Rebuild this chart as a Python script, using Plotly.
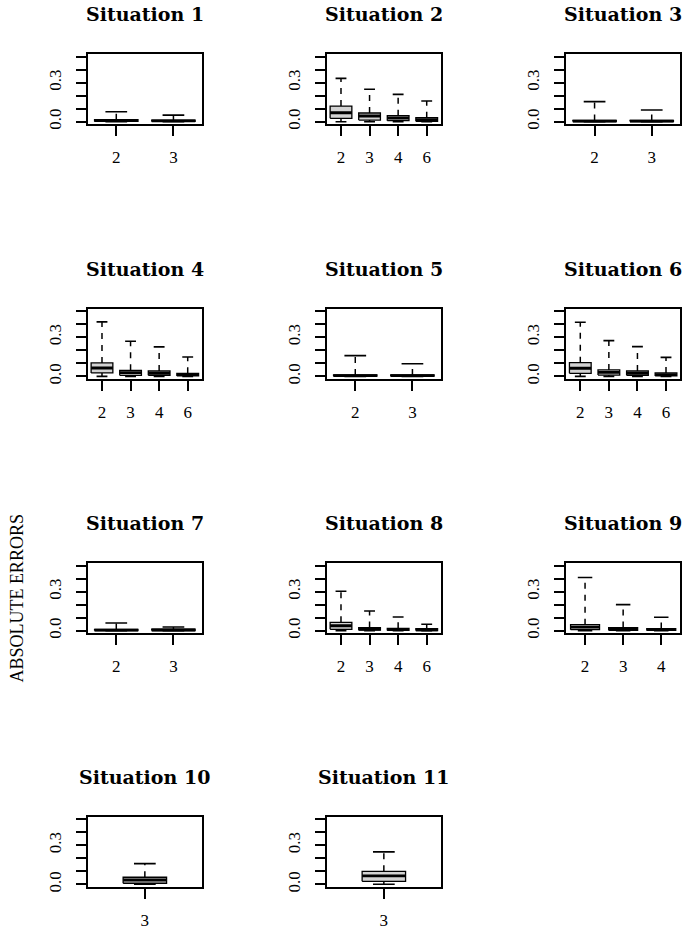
import plotly.graph_objects as go

# ---------------- data ----------------
titles = ["Situation 1", "Situation 2", "Situation 3", "Situation 4", "Situation 5",
          "Situation 6", "Situation 7", "Situation 8", "Situation 9", "Situation 10",
          "Situation 11"]

s1_cats = ["2", "3"]
s1_low = [0.0, 0.0]
s1_q1 = [0.002, 0.002]
s1_med = [0.008, 0.006]
s1_q3 = [0.016, 0.012]
s1_up = [0.077, 0.051]

s2_cats = ["2", "3", "4", "6"]
s2_low = [0.0, 0.0, 0.0, 0.0]
s2_q1 = [0.026, 0.013, 0.008, 0.003]
s2_med = [0.069, 0.044, 0.028, 0.015]
s2_q3 = [0.120, 0.067, 0.046, 0.031]
s2_up = [0.333, 0.249, 0.210, 0.159]

s3_cats = ["2", "3"]
s3_low = [0.0, 0.0]
s3_q1 = [0.001, 0.001]
s3_med = [0.005, 0.005]
s3_q3 = [0.010, 0.010]
s3_up = [0.154, 0.090]

s4_cats = ["2", "3", "4", "6"]
s4_low = [0.0, 0.0, 0.0, 0.0]
s4_q1 = [0.026, 0.008, 0.008, 0.003]
s4_med = [0.064, 0.028, 0.023, 0.013]
s4_q3 = [0.103, 0.046, 0.041, 0.023]
s4_up = [0.418, 0.270, 0.226, 0.149]

s5_cats = ["2", "3"]
s5_low = [0.0, 0.0]
s5_q1 = [0.001, 0.001]
s5_med = [0.005, 0.005]
s5_q3 = [0.011, 0.011]
s5_up = [0.159, 0.097]

s6_cats = ["2", "3", "4", "6"]
s6_low = [0.0, 0.0, 0.0, 0.0]
s6_q1 = [0.023, 0.010, 0.008, 0.003]
s6_med = [0.062, 0.031, 0.023, 0.013]
s6_q3 = [0.105, 0.049, 0.041, 0.026]
s6_up = [0.415, 0.274, 0.228, 0.146]

s7_cats = ["2", "3"]
s7_low = [0.0, 0.0]
s7_q1 = [0.001, 0.001]
s7_med = [0.004, 0.005]
s7_q3 = [0.009, 0.011]
s7_up = [0.059, 0.028]

s8_cats = ["2", "3", "4", "6"]
s8_low = [0.0, 0.0, 0.0, 0.0]
s8_q1 = [0.010, 0.004, 0.002, 0.001]
s8_med = [0.038, 0.013, 0.008, 0.006]
s8_q3 = [0.064, 0.024, 0.018, 0.016]
s8_up = [0.303, 0.151, 0.105, 0.049]

s9_cats = ["2", "3", "4"]
s9_low = [0.0, 0.0, 0.0]
s9_q1 = [0.008, 0.003, 0.002]
s9_med = [0.028, 0.013, 0.008]
s9_q3 = [0.046, 0.024, 0.016]
s9_up = [0.408, 0.200, 0.103]

s10_cats = ["3"]
s10_low = [0.0]
s10_q1 = [0.008]
s10_med = [0.033]
s10_q3 = [0.054]
s10_up = [0.159]

s11_cats = ["3"]
s11_low = [0.0]
s11_q1 = [0.023]
s11_med = [0.064]
s11_q3 = [0.100]
s11_up = [0.249]

y_tickvals = [0.0, 0.1, 0.2, 0.3, 0.4, 0.5]
y_ticktext = ["0.0", "", "", "0.3", "", ""]
y_label = "ABSOLUTE ERRORS"

panels = [
    (s1_cats, s1_low, s1_q1, s1_med, s1_q3, s1_up),
    (s2_cats, s2_low, s2_q1, s2_med, s2_q3, s2_up),
    (s3_cats, s3_low, s3_q1, s3_med, s3_q3, s3_up),
    (s4_cats, s4_low, s4_q1, s4_med, s4_q3, s4_up),
    (s5_cats, s5_low, s5_q1, s5_med, s5_q3, s5_up),
    (s6_cats, s6_low, s6_q1, s6_med, s6_q3, s6_up),
    (s7_cats, s7_low, s7_q1, s7_med, s7_q3, s7_up),
    (s8_cats, s8_low, s8_q1, s8_med, s8_q3, s8_up),
    (s9_cats, s9_low, s9_q1, s9_med, s9_q3, s9_up),
    (s10_cats, s10_low, s10_q1, s10_med, s10_q3, s10_up),
    (s11_cats, s11_low, s11_q1, s11_med, s11_q3, s11_up),
]

# ---------------- layout geometry (pixels) ----------------
W, H = 682, 931
col_left = [87.7, 326.7, 566.0]
col_w = 114.3
row_top = [54.3, 310.3, 566.0, 821.0]
row_h = 70.7

BOX_FILL = "#d3d3d3"
TICK_FONT = dict(family="Liberation Serif", size=17, color="black")
TITLE_FONT = dict(family="DejaVu Serif", size=19, color="black")

fig = go.Figure()
layout = dict(width=W, height=H, margin=dict(l=0, r=0, t=0, b=0),
              paper_bgcolor="white", plot_bgcolor="white", showlegend=False)
annotations = []

for i, (cats, low, q1, med, q3, up) in enumerate(panels):
    r, c = divmod(i, 3)
    n = len(cats)
    ax = "" if i == 0 else str(i + 1)
    xref, yref = "x" + ax, "y" + ax
    pos = list(range(1, n + 1))
    bw = 0.76 if n > 1 else 0.38

    # whiskers (dashed)
    wx, wy = [], []
    for p, lo, a, b, hi in zip(pos, low, q1, q3, up):
        wx += [p, p, None, p, p, None]
        wy += [b, hi, None, a, lo, None]
    fig.add_trace(go.Scatter(x=wx, y=wy, mode="lines", xaxis=xref, yaxis=yref,
                             line=dict(color="black", width=1.5, dash="6px,6px"),
                             hoverinfo="skip"))
    # caps
    cx, cy = [], []
    for p, lo, hi in zip(pos, low, up):
        cx += [p - bw / 4, p + bw / 4, None, p - bw / 4, p + bw / 4, None]
        cy += [hi, hi, None, lo, lo, None]
    fig.add_trace(go.Scatter(x=cx, y=cy, mode="lines", xaxis=xref, yaxis=yref,
                             line=dict(color="black", width=1.6), hoverinfo="skip"))
    # boxes
    for p, a, b in zip(pos, q1, q3):
        fig.add_trace(go.Scatter(x=[p - bw / 2, p + bw / 2, p + bw / 2, p - bw / 2, p - bw / 2],
                                 y=[a, a, b, b, a], mode="lines", fill="toself",
                                 fillcolor=BOX_FILL, xaxis=xref, yaxis=yref,
                                 line=dict(color="black", width=1.3), hoverinfo="skip"))
    # medians
    mx, my = [], []
    for p, m in zip(pos, med):
        mx += [p - bw / 2, p + bw / 2, None]
        my += [m, m, None]
    fig.add_trace(go.Scatter(x=mx, y=my, mode="lines", xaxis=xref, yaxis=yref,
                             line=dict(color="black", width=2.8), hoverinfo="skip"))

    x0 = col_left[c] / W
    x1 = (col_left[c] + col_w) / W
    y1 = 1 - row_top[r] / H
    y0 = 1 - (row_top[r] + row_h) / H
    layout["xaxis" + ax] = dict(domain=[x0, x1], anchor=yref, range=[0.5, n + 0.5],
                                tickvals=pos, ticktext=cats, ticks="outside",
                                ticklen=10, tickwidth=1.5, tickcolor="black",
                                ticklabelstandoff=7,
                                showline=True, linecolor="black", linewidth=1.5,
                                mirror=True, showgrid=False, zeroline=False,
                                tickfont=TICK_FONT, fixedrange=True)
    layout["yaxis" + ax] = dict(domain=[y0, y1], anchor=xref, range=[-0.02, 0.52],
                                tickvals=y_tickvals, ticktext=y_ticktext,
                                ticks="outside", ticklen=10, tickwidth=1.5,
                                tickcolor="black", tickangle=-90,
                                ticklabelstandoff=8,
                                showline=True, linecolor="black", linewidth=1.5,
                                mirror=True, showgrid=False, zeroline=False,
                                tickfont=TICK_FONT, fixedrange=True)
    annotations.append(dict(text="<b>" + titles[i] + "</b>", xref="paper", yref="paper",
                            x=(col_left[c] + col_w / 2) / W, y=1 - (row_top[r] - 40) / H,
                            xanchor="center", yanchor="middle", showarrow=False,
                            font=TITLE_FONT))

annotations.append(dict(text=y_label, xref="paper", yref="paper",
                        x=17.5 / W, y=1 - (row_top[2] + row_h / 2) / H,
                        xanchor="center", yanchor="middle", textangle=-90,
                        showarrow=False,
                        font=dict(family="Liberation Serif", size=18, color="black")))

layout["annotations"] = annotations
fig.update_layout(**layout)
fig.write_html("out.html", config={"displayModeBar": False},
               post_script="document.body.style.margin='0';document.body.style.overflow='hidden';")
